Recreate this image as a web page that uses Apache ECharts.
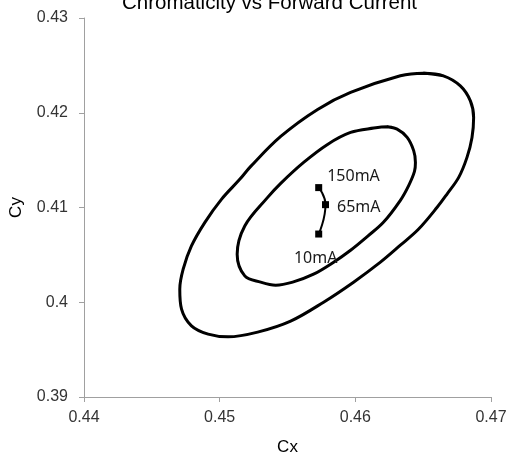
<!DOCTYPE html>
<html>
<head>
<meta charset="utf-8">
<script src="https://cdn.jsdelivr.net/npm/echarts@6/dist/echarts.min.js"></script>
<style>
html,body{margin:0;padding:0;background:#fff;}
#chart{width:517px;height:461px;}
</style>
</head>
<body>
<div id="chart"></div>
<script>
// Outer ellipse boundary points [Cx, Cy] (loop closed with overlap)
var outerEllipse = [
  [0.46502,0.42417],[0.46649,0.42390],[0.46774,0.42284],[0.46848,0.42126],
  [0.46872,0.41950],[0.46860,0.41740],[0.46823,0.41529],[0.46762,0.41318],
  [0.46676,0.41142],[0.46603,0.41002],[0.46465,0.40770],[0.46332,0.40602],
  [0.46185,0.40423],[0.45987,0.40212],[0.45766,0.40001],[0.45523,0.39801],
  [0.45280,0.39685],[0.45062,0.39635],[0.44915,0.39664],[0.44792,0.39751],
  [0.44719,0.39927],[0.44706,0.40138],[0.44731,0.40349],[0.44792,0.40594],
  [0.44890,0.40841],[0.45013,0.41086],[0.45148,0.41297],[0.45229,0.41434],
  [0.45450,0.41750],[0.45722,0.42035],[0.45965,0.42214],[0.46332,0.42390],
  [0.46502,0.42417],[0.46649,0.42390]
];
// Inner ellipse boundary points [Cx, Cy] (loop closed with overlap)
var innerEllipse = [
  [0.46235,0.41852],[0.46308,0.41827],[0.46382,0.41740],[0.46430,0.41600],
  [0.46443,0.41476],[0.46436,0.41381],[0.46394,0.41234],[0.46332,0.41076],
  [0.46207,0.40844],[0.46090,0.40696],[0.45965,0.40549],[0.45840,0.40423],
  [0.45692,0.40296],[0.45538,0.40212],[0.45413,0.40180],[0.45302,0.40212],
  [0.45185,0.40278],[0.45129,0.40507],[0.45185,0.40805],
  [0.45352,0.41104],[0.45450,0.41255],[0.45619,0.41476],[0.45795,0.41666],
  [0.45965,0.41792],[0.46136,0.41838],[0.46235,0.41852],[0.46308,0.41827]
];
// Measured chromaticity at forward currents
var currents = ['150mA','65mA','10mA'];
var cxValues = [0.4573,0.4578,0.4573];
var cyValues = [0.4121,0.4103,0.4072];
var xTicks = [0.44,0.45,0.46,0.47];
var yTicks = [0.39,0.40,0.41,0.42,0.43];

var labelPos = {
  '150mA': {position:'right', offset:[0,-11]},
  '65mA':  {position:'right', offset:[3,3]},
  '10mA':  {position:'bottom', offset:[-3,8]}
};
var pointData = currents.map(function(c,i){
  return {
    value:[cxValues[i],cyValues[i]],
    name:c,
    label:{show:true, formatter:c, position:labelPos[c].position, offset:labelPos[c].offset}
  };
});

var axisGray = '#a0a0a0';
var chart = echarts.init(document.getElementById('chart'), null, {renderer:'canvas'});
chart.setOption({
  animation:false,
  backgroundColor:'#ffffff',
  title:{
    text:'Chromaticity vs Forward Current',
    left:117,
    top:-12,
    textStyle:{fontFamily:'Liberation Sans', fontSize:20.5, fontWeight:'normal', color:'#000'}
  },
  grid:{left:83, right:26, top:18, bottom:63, containLabel:false},
  xAxis:{
    type:'value',
    min:xTicks[0], max:xTicks[xTicks.length-1], interval:0.01,
    name:'Cx', nameLocation:'middle', nameGap:42,
    nameTextStyle:{fontFamily:'Liberation Sans', fontSize:17, color:'#000'},
    axisLine:{show:true, lineStyle:{color:axisGray, width:1}},
    axisTick:{show:true, inside:false, length:5, lineStyle:{color:axisGray}},
    axisLabel:{fontFamily:'Liberation Sans', fontSize:16, color:'#333', margin:13},
    splitLine:{show:false}
  },
  yAxis:{
    type:'value',
    min:yTicks[0], max:yTicks[yTicks.length-1], interval:0.01,
    name:'Cy', nameLocation:'middle', nameGap:59,
    nameTextStyle:{fontFamily:'Liberation Sans', fontSize:17, color:'#000'},
    axisLine:{show:true, lineStyle:{color:axisGray, width:1}},
    axisTick:{show:true, inside:false, length:5, lineStyle:{color:axisGray}},
    axisLabel:{fontFamily:'Liberation Sans', fontSize:16, color:'#333', margin:16},
    splitLine:{show:false}
  },
  series:[
    {
      type:'line', data:outerEllipse, smooth:0.35, showSymbol:false, symbol:'none',
      lineStyle:{color:'#000', width:3}, silent:true
    },
    {
      type:'line', data:innerEllipse, smooth:0.35, showSymbol:false, symbol:'none',
      lineStyle:{color:'#000', width:3}, silent:true
    },
    {
      type:'line', data:pointData, smooth:true,
      symbol:'rect', symbolSize:7, showSymbol:true,
      itemStyle:{color:'#000'},
      lineStyle:{color:'#000', width:2},
      label:{fontFamily:'Noto Sans', fontSize:16, color:'#1a1a1a'}
    }
  ]
});
</script>
</body>
</html>
